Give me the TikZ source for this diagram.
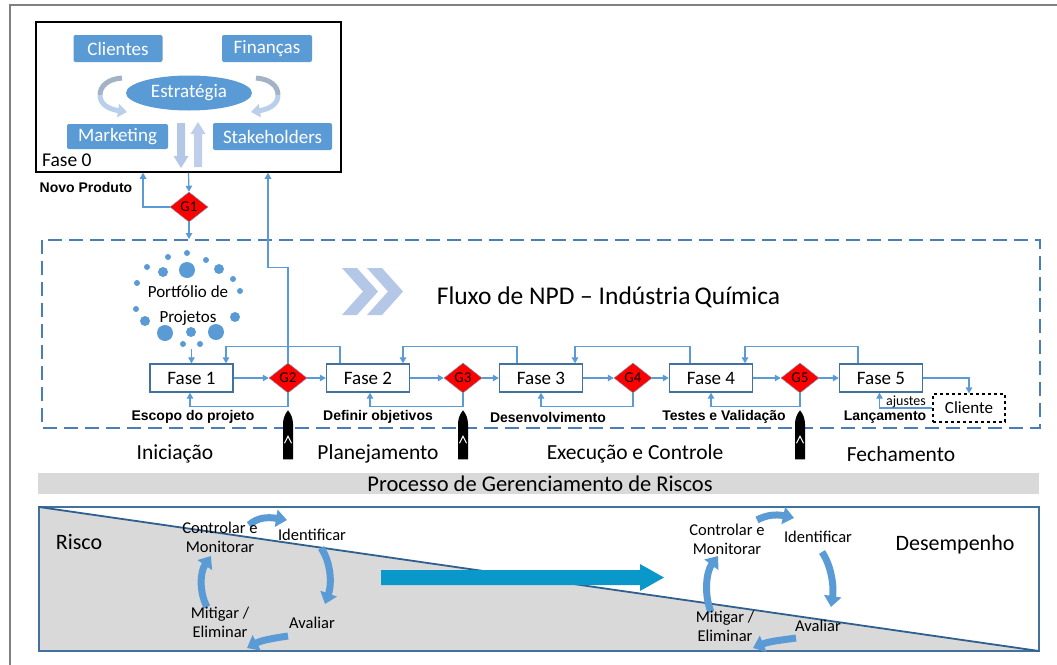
\documentclass[tikz,border=0pt]{standalone}
\usepackage{fontspec}
\setmainfont{Carlito}
\newfontfamily\arialfont{Liberation Sans}
\usetikzlibrary{arrows.meta,shapes.geometric,calc}

\definecolor{boxblue}{HTML}{5B9BD5}
\definecolor{lineblue}{HTML}{5B9BD5}
\definecolor{phaseblue}{HTML}{41719C}
\definecolor{dashblue}{HTML}{4A7EBB}
\definecolor{frameblue}{HTML}{41719C}
\definecolor{diagblue}{HTML}{2F5F8F}
\definecolor{gateedge}{HTML}{7A8FB0}
\definecolor{riskgray}{HTML}{D9D9D9}
\definecolor{flowcyan}{HTML}{0A98CB}
\definecolor{chevblue}{HTML}{B4C7E7}
\definecolor{palegray}{HTML}{A3B3C6}
\definecolor{paleblue}{HTML}{B9CFEA}
\definecolor{framegray}{HTML}{808080}

\newcommand\fsz[1]{\fontsize{#1}{#1}\selectfont}

\tikzset{
  milestone/.pic={
    \fill[black] (0,0) .. controls (3,4) and (5,8) .. (5,14) -- (5,49) -- (-5,49)
      -- (-5,14) .. controls (-5,8) and (-3,4) .. (0,0) -- cycle;
    \draw[white, line width=1pt] (-3.5,33) -- (0,26) -- (3.5,33);
  }
}

\begin{document}
\begin{tikzpicture}[x=1pt,y=-1pt,
  conn/.style={draw=lineblue, line width=1.2pt, -{Triangle[width=6.5pt,length=6pt]}},
  bluebox/.style={rectangle, rounded corners=2pt, fill=boxblue, text=white, font=\fsz{19}, inner sep=0pt},
  phase/.style={rectangle, draw=phaseblue, fill=white, line width=1.3pt, minimum width=83pt, minimum height=28pt, font=\fsz{19}, inner sep=0pt},
  gate/.style={diamond, fill=red, draw=gateedge, line width=0.5pt, minimum width=38pt, minimum height=30pt, inner sep=0pt, font=\fsz{15}},
  steplbl/.style={font=\arialfont\bfseries\fsz{14}, inner sep=0pt},
  stage/.style={font=\fsz{21.5}, inner sep=0pt},
  cyclbl/.style={font=\fontsize{16.5}{19}\selectfont, inner sep=0pt, align=center},
  cycarrow/.style={draw=boxblue, line width=7pt, -{Triangle[width=17pt,length=11pt]}},
]
\useasboundingbox (0,0) rectangle (1057,664);

% page frame
\draw[framegray, line width=2pt] (10,666) -- (10,5) -- (1059,5);

% ---------- Fase 0 ----------
\node[draw=black, line width=1.5pt, minimum width=305pt, minimum height=150pt, inner sep=0pt] (f0) at (188.5,97) {};
\node[bluebox, minimum width=89pt, minimum height=27pt] (cli) at (118,48.5) {Clientes};
\node[bluebox, minimum width=90pt, minimum height=27pt] (fin) at (267,48.5) {Finanças};
\node[bluebox, minimum width=101pt, minimum height=25pt] (mkt) at (117.5,136.5) {Marketing};
\node[bluebox, minimum width=119pt, minimum height=27pt] (stk) at (272.5,136.5) {Stakeholders};
\node[ellipse, fill=boxblue, text=white, font=\fsz{19}, minimum width=126pt, minimum height=35pt, inner sep=0pt] (est) at (189,93) {Estratégia};
\node[font=\fsz{19.5}, anchor=west, inner sep=0pt] (f0lbl) at (42,160) {Fase 0};

% curved arrows around the strategy
\draw[palegray, line width=5pt] (122,78) .. controls (108,79) and (100,86) .. (100,95);
\draw[paleblue, line width=5pt, -{Triangle[width=13pt,length=9pt]}] (100,95) .. controls (100,104) and (108,109) .. (127,112);
\draw[palegray, line width=5pt] (256,78) .. controls (270,79) and (278,86) .. (278,95);
\draw[paleblue, line width=5pt, -{Triangle[width=13pt,length=9pt]}] (278,95) .. controls (278,104) and (270,109) .. (251,112);

% vertical block arrows
\fill[chevblue] (177,123) -- (185,123) -- (185,156) -- (188.5,156) -- (181,168) -- (173.5,156) -- (177,156) -- cycle;
\fill[chevblue!85!white] (194,167) -- (202,167) -- (202,134) -- (205.5,134) -- (198,122) -- (190.5,134) -- (194,134) -- cycle;

% ---------- G1 ----------
\node[steplbl] (novo) at (86,187) {Novo Produto};
\node[gate] (g1) at (189,207) {G1};
\coordinate (npdin) at (189,239);
\draw[conn] (f0.south) -- (g1.north);
\draw[conn] (g1.west) -| ([xshift=-45.5pt]f0.south);
\draw[conn] (g1.south) -- (npdin);

% ---------- NPD flow frame ----------
\draw[dashblue, line width=2pt, dash pattern=on 14pt off 7pt] (42,240) rectangle (1040,428);

% chevrons and title
\fill[chevblue] (342,268) -- (357,268) -- (378,291.5) -- (357,315) -- (342,315) -- (363,291.5) -- cycle;
\fill[chevblue] (367,268) -- (382,268) -- (403,291.5) -- (382,315) -- (367,315) -- (388,291.5) -- cycle;
\node[font=\fsz{25.5}, inner sep=0pt] (title) at (608.5,297) {Fluxo de NPD -- Indústria\,Química};

% project portfolio
\foreach \px/\py/\pr in {187/253/3,168/257/3,206/260/3,147/267/3,163/272/5,187/270/8,219/269/5,233/279/3,137/283/3,240/291/3,136/309/3,145/321/5,235/317/5,165/333/8,191/332/5,216/332/8,183/344/3,200/344/3}
  \fill[boxblue] (\px,\py) circle[radius=\pr];
\node[font=\fsz{17}, inner sep=0pt] (pf1) at (188,292) {Portfólio de};
\node[font=\fsz{17}, inner sep=0pt] (pf2) at (188,318) {Projetos};
\coordinate (pfout) at (191.5,349);

% phases and gates
\node[phase] (f1) at (191.5,378) {Fase 1};
\node[gate] (g2) at (288,378) {G2};
\node[phase] (f2) at (368,378) {Fase 2};
\node[gate] (g3) at (463,378) {G3};
\node[phase] (f3) at (541,378) {Fase 3};
\node[gate] (g4) at (633,378) {G4};
\node[phase] (f4) at (711,378) {Fase 4};
\node[gate] (g5) at (800,378) {G5};
\node[phase] (f5) at (881,378) {Fase 5};
\node[draw=black, dashed, line width=1.2pt, minimum width=72pt, minimum height=28pt, font=\fsz{17}, inner sep=0pt] (cliente) at (969,408) {Cliente};

\draw[conn] (pfout) -- (f1.north);

% forward flow
\draw[conn] (f1) -- (g2);
\draw[conn] (g2) -- (f2);
\draw[conn] (f2) -- (g3);
\draw[conn] (g3) -- (f3);
\draw[conn] (f3) -- (g4);
\draw[conn] (g4) -- (f4);
\draw[conn] (f4) -- (g5);
\draw[conn] (g5) -- (f5);
\draw[conn] (f5.east) -| (cliente.north);

% gate returns below
\draw[conn] (g2.south) -- ++(0,13) -| ([xshift=-1.5pt]f1.south);
\draw[conn] (g3.south) -- ++(0,13) -| ([xshift=2pt]f2.south);
\draw[conn] (g4.south) -- ++(0,13) -| (f3.south);
\draw[conn] (g5.south) -- ++(0,13) -| (f4.south);
\draw[conn] (cliente.west) -| ([xshift=-1.5pt]f5.south);
\node[font=\fsz{14}, inner sep=0pt] (ajustes) at (906,402) {ajustes};

% feedback loops above
\draw[conn] ([xshift=-28pt]f2.north) -- ++(0,-17) -| ([xshift=34.5pt]f1.north);
\draw[conn] ([xshift=-24pt]f3.north) -- ++(0,-17) -| ([xshift=35pt]f2.north);
\draw[conn] ([xshift=-21pt]f4.north) -- ++(0,-17) -| ([xshift=34pt]f3.north);
\draw[conn] ([xshift=-23pt]f5.north) -- ++(0,-17) -| ([xshift=34pt]f4.north);

% link from G2 back to Fase 0
\draw[conn] (g2.north) -- ++(0,-95) -| ([xshift=79.5pt]f0.south);

% step labels
\node[steplbl] (l1) at (193,417) {Escopo do projeto};
\node[steplbl] (l2) at (378,417) {Definir objetivos};
\node[steplbl] (l3) at (548,417) {Desenvolvimento};
\node[steplbl] (l4) at (724,417) {Testes e Validação};
\node[steplbl] (l5) at (885,417) {Lançamento};

% milestones
\path (g2.south) ++(0,17) pic {milestone};
\path (g3.south) ++(0,17) pic {milestone};
\path (g5.south) ++(0,17) pic {milestone};

% project stages
\node[stage] (s1) at (175,454) {Iniciação};
\node[stage] (s2) at (378,454) {Planejamento};
\node[stage] (s3) at (635,454) {Execução e Controle};
\node[stage] (s4) at (901,454) {Fechamento};

% ---------- risk management ----------
\fill[riskgray] (38,473) rectangle (1039,494);
\node[font=\fsz{22.5}, inner sep=0pt] (risk) at (540,483.5) {Processo de Gerenciamento de Riscos};

\fill[riskgray] (39,507) -- (1039,651) -- (39,651) -- cycle;
\draw[frameblue, line width=2pt] (39,507) rectangle (1039,651);
\draw[diagblue, line width=1.8pt] (39,507) -- (1039,651);

\node[font=\fsz{22}, inner sep=0pt] (risco) at (79,542) {Risco};
\node[font=\fsz{22}, inner sep=0pt] (desemp) at (955,545) {Desempenho};

% flow arrow from risk to performance
\fill[flowcyan] (381,570) -- (640,570) -- (640,564) -- (664,577.5) -- (640,591) -- (640,585) -- (381,585) -- cycle;

% left risk cycle
\draw[cycarrow] (249,525) .. controls (258,517) and (268,517) .. (287,520);
\draw[cycarrow] (321,548) .. controls (331,562) and (332,584) .. (325,604);
\draw[cycarrow] (288,636) .. controls (275,638) and (262,640) .. (247,648);
\draw[cycarrow] (207,607) .. controls (199,592) and (200,572) .. (211,556);
\node[cyclbl] (lc1) at (220,537) {Controlar e\\Monitorar};
\node[cyclbl] (lc2) at (312,535) {Identificar};
\node[cyclbl] (lc3) at (312,623) {Avaliar};
\node[cyclbl] (lc4) at (220,622) {Mitigar /\\Eliminar};

% right risk cycle
\draw[cycarrow] (757,520) .. controls (766,515) and (776,514) .. (794,518);
\draw[cycarrow] (822,552) .. controls (832,567) and (834,588) .. (831,607);
\draw[cycarrow] (796,638) .. controls (783,640) and (770,641) .. (753,648);
\draw[cycarrow] (711,612) .. controls (704,595) and (706,572) .. (718,556);
\node[cyclbl] (rc1) at (727,539) {Controlar e\\Monitorar};
\node[cyclbl] (rc2) at (818,537) {Identificar};
\node[cyclbl] (rc3) at (818,626) {Avaliar};
\node[cyclbl] (rc4) at (725,626) {Mitigar /\\Eliminar};

\end{tikzpicture}
\end{document}
